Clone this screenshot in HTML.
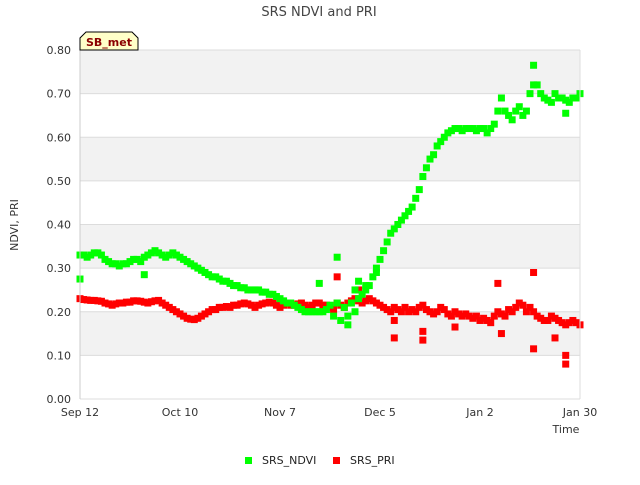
<!DOCTYPE html>
<html><head><meta charset="utf-8"><style>
body{margin:0;background:#fff;font-family:"Liberation Sans","DejaVu Sans",sans-serif}
svg text{font-family:"DejaVu Sans","Liberation Sans",sans-serif}
</style></head><body>
<svg id="c" width="640" height="480" xmlns="http://www.w3.org/2000/svg">
<text x="319" y="16" text-anchor="middle" font-size="13" fill="#444">SRS NDVI and PRI</text>
<g id="bands"></g>
<g id="grid"></g>
<g id="marks"></g>
<g id="axes"></g>
<path d="M80,50 L80,38 L86,32 L132,32 L138,38 L138,50 Z" fill="#ffffc8" stroke="#000" stroke-width="1"/>
<text x="109" y="46" text-anchor="middle" font-size="11" font-weight="bold" fill="#8b0000">SB_met</text>
<text x="18" y="225" text-anchor="middle" font-size="11" fill="#333" transform="rotate(-90 18 225)">NDVI, PRI</text>
<text x="566" y="433" text-anchor="middle" font-size="11" fill="#333">Time</text>
<g>
<rect x="245" y="457" width="7" height="7" fill="#00ff00"/>
<text x="262" y="464" font-size="11" fill="#222">SRS_NDVI</text>
<rect x="333" y="457" width="7" height="7" fill="#ff0000"/>
<text x="350" y="464" font-size="11" fill="#222">SRS_PRI</text>
</g>
</svg>
<script>
const yTicks=[0,0.1,0.2,0.3,0.4,0.5,0.6,0.7,0.8];
const xTickLabels=["Sep 12","Oct 10","Nov 7","Dec 5","Jan 2","Jan 30"];
const xTickDays=[0,28,56,84,112,140];
const ndvi=[.33,.33,.325,.33,.335,.335,.33,.32,.315,.31,
.31,.305,.31,.31,.315,.32,.32,.315,.325,.33,
.335,.34,.335,.33,.325,.33,.335,.33,.325,.32,
.315,.31,.305,.30,.295,.29,.285,.28,.28,.275,
.27,.27,.265,.26,.26,.255,.255,.25,.25,.25,
.25,.245,.245,.24,.24,.235,.23,.225,.22,.22,
.215,.21,.205,.20,.20,.20,.20,.20,.20,.205,
.215,.19,.22,.18,.21,.19,.22,.20,.23,.24,
.25,.26,.28,.30,.32,.34,.36,.38,.39,.40,
.41,.42,.43,.44,.46,.48,.51,.53,.55,.56,
.58,.59,.60,.61,.615,.62,.62,.615,.62,.62,
.62,.615,.62,.62,.61,.62,.63,.66,.69,.66,
.65,.64,.66,.67,.65,.66,.70,.72,.72,.70,
.69,.685,.68,.70,.69,.69,.685,.68,.69,.69,.70];
const pri=[.23,.228,.227,.226,.226,.225,.224,.22,.218,.215,
.218,.22,.22,.222,.222,.225,.225,.224,.222,.22,
.223,.225,.226,.22,.215,.21,.205,.20,.195,.19,
.185,.183,.182,.185,.19,.195,.20,.205,.205,.21,
.21,.212,.21,.215,.215,.218,.22,.218,.215,.21,
.215,.218,.22,.222,.22,.215,.21,.215,.22,.215,
.215,.218,.22,.215,.21,.215,.22,.22,.215,.215,
.21,.205,.22,.215,.21,.22,.225,.23,.225,.22,
.225,.23,.225,.22,.215,.21,.205,.20,.21,.205,
.20,.21,.2,.205,.20,.21,.215,.205,.2,.195,
.2,.21,.205,.195,.19,.2,.195,.19,.195,.19,
.185,.19,.18,.185,.18,.175,.19,.2,.195,.19,
.205,.2,.21,.22,.215,.2,.21,.2,.19,.185,
.18,.18,.19,.185,.18,.175,.17,.175,.18,.175,.17];
const ndviExtraDays=[0,18,72,78,80,83,136,127,67,75,77];
const ndviExtraVals=[.275,.285,.325,.27,.26,.29,.655,.765,.265,.17,.25];
const priExtraDays=[72,78,88,88,96,96,117,127,127,133,136,136,105,118];
const priExtraVals=[.28,.25,.14,.18,.135,.155,.265,.29,.115,.14,.1,.08,.165,.15];
const NS='http://www.w3.org/2000/svg';
const X0=80,X1=580,Y0=399,Y1=50;
function xs(d){return X0+(X1-X0)*d/140;}
function ys(v){return Y0-(Y0-Y1)*v/0.8;}
function mk(t,a,p){const e=document.createElementNS(NS,t);for(const k in a)e.setAttribute(k,a[k]);p.appendChild(e);return e;}
const bands=document.getElementById('bands'),grid=document.getElementById('grid'),marks=document.getElementById('marks'),axes=document.getElementById('axes');
for(let i=0;i<yTicks.length-1;i++){
  if(i%2===1){const r=mk('rect',{x:X0,y:ys(yTicks[i+1]),width:X1-X0,height:ys(yTicks[i])-ys(yTicks[i+1]),fill:'#f2f2f2'},bands);
  
  }
}
yTicks.forEach(v=>{
  const l=mk('line',{x1:X0,x2:X1,y1:ys(v),y2:ys(v),stroke:'#dcdcdc','stroke-width':1},grid);
  
  
  const t=mk('text',{x:X0-9,y:ys(v)+4,'text-anchor':'end','font-size':'11',fill:'#333'},axes);
  t.textContent=v.toFixed(2);
  
  
});
const ax=mk('line',{x1:X0,x2:X0,y1:Y1,y2:Y0,stroke:'#ccc'},axes);


const ax2=mk('line',{x1:X1,x2:X1,y1:Y1,y2:Y0,stroke:'#ddd'},axes);


xTickDays.forEach((d,i)=>{
  const t=mk('text',{x:xs(d),y:Y0+17,'text-anchor':'middle','font-size':'11',fill:'#333'},axes);
  t.textContent=xTickLabels[i];
  
  
});
function pt(d,v,c,n){const r=mk('rect',{x:xs(d)-3.5,y:ys(v)-3.5,width:7,height:7,fill:c},marks);
  
  }
pri.forEach((v,i)=>pt(i,v,'#ff0000','pri-point'));
priExtraDays.forEach((d,i)=>pt(d,priExtraVals[i],'#ff0000','pri-point'));
ndvi.forEach((v,i)=>pt(i,v,'#00ff00','ndvi-point'));
ndviExtraDays.forEach((d,i)=>pt(d,ndviExtraVals[i],'#00ff00','ndvi-point'));
</script>
</body></html>
